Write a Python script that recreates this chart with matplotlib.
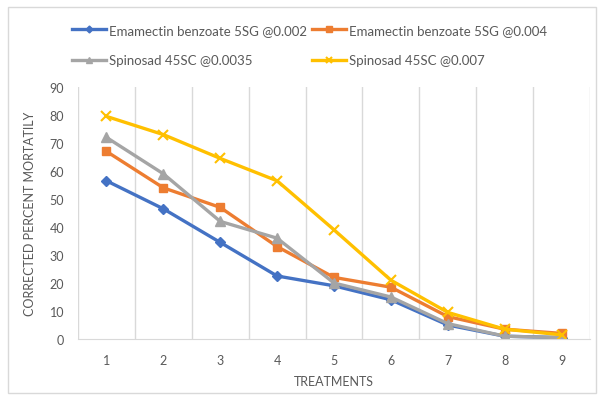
import numpy as np
import matplotlib.pyplot as plt

plt.rcParams['font.family'] = ['Lato', 'DejaVu Sans']

# corrected percent mortality per treatment
treatments = [1, 2, 3, 4, 5, 6, 7, 8, 9]
emamectin_0002 = [56.5, 46.5, 34.5, 22.5, 19, 14, 5, 1, 0.5]
emamectin_0004 = [67, 54, 47, 33, 22, 18.5, 8, 3.5, 2]
spinosad_00035 = [72, 59, 42, 36, 20, 15, 5.5, 1, 0.5]
spinosad_0007 = [79.5, 73, 64.5, 56.5, 39, 21, 9.5, 3.5, 1.5]

fig = plt.figure(figsize=(6.04, 4.02), dpi=100)
fig.patch.set_facecolor("white")
ax = fig.add_axes([78/604, 62/402, 512/604, 252/402])

l1, = ax.plot(treatments, emamectin_0002, color="#4472C4", marker="D", markersize=5, lw=2.4,
              label="Emamectin benzoate 5SG @0.002")
l2, = ax.plot(treatments, emamectin_0004, color="#ED7D31", marker="s", markersize=6, lw=2.4,
              label="Emamectin benzoate 5SG @0.004")
l3, = ax.plot(treatments, spinosad_00035, color="#A5A5A5", marker="^", markersize=7, lw=2.4,
              label="Spinosad 45SC @0.0035")
l4, = ax.plot(treatments, spinosad_0007, color="#FFC000", marker="x", markersize=7, mew=1.5, lw=2.4,
              label="Spinosad 45SC @0.007")

ax.set_xlim(0.5, 9.5)
ax.set_ylim(0, 90)
ax.set_yticks(range(0, 91, 10))
ax.set_xticks(treatments)
ax.set_xticks(np.arange(0.5, 10, 1), minor=True)
ax.grid(which="minor", axis="x", color="#D9D9D9", lw=1)
ax.tick_params(which="both", length=0, labelsize=9, colors="#595959")
ax.tick_params(axis="x", pad=11)
ax.tick_params(axis="y", pad=10)
for side in ["top", "right", "left"]:
    ax.spines[side].set_visible(False)
ax.spines["bottom"].set_color("#D9D9D9")

ax.set_xlabel("TREATMENTS", fontsize=9, color="#595959", labelpad=6)
ax.set_ylabel("CORRECTED PERCENT MORTATILY", fontsize=9, color="#595959", labelpad=10)

# legend rows read left to right, so order handles column by column
handles = [l1, l3, l2, l4]
fig.legend(handles, [h.get_label() for h in handles], loc="upper left",
           bbox_to_anchor=(72/604, 1 - 25/402), ncol=2, frameon=False,
           borderpad=0, borderaxespad=0, fontsize=9.5, labelcolor="#595959",
           handlelength=2.6, columnspacing=0.35, handletextpad=0.2, labelspacing=1.4,
           markerscale=0.7)

# thin outer frame
fig.add_artist(plt.Rectangle((8/604, 8/402), 588/604, 386/402, transform=fig.transFigure,
                             fill=False, edgecolor="#D9D9D9", lw=1))

fig.savefig("out.png", dpi=100)
